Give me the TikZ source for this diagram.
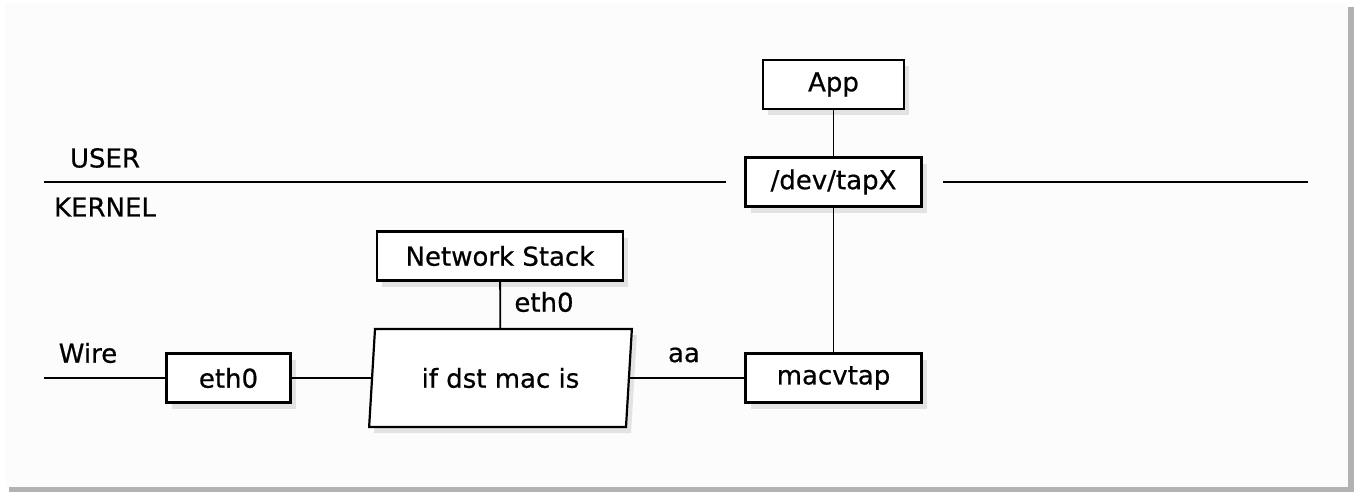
\documentclass[tikz,border=0pt]{standalone}
\usepackage{fontspec}
\setmainfont{DejaVu Sans}[BoldFont={DejaVu Sans}, BoldFeatures={FakeBold=0.6}]
\usetikzlibrary{shapes.geometric,shadows}

\begin{document}
\begin{tikzpicture}[x=0.5pt, y=-0.5pt, line width=0.9pt,
    box/.style={draw, fill=white, line width=1.1pt, minimum height=24.5pt,
      inner sep=0pt, font=\fontsize{13}{15}\selectfont\bfseries,
      drop shadow={shadow xshift=2.5pt, shadow yshift=-3pt, opacity=0.2}},
    lbl/.style={font=\fontsize{13}{15}\selectfont\bfseries, inner sep=0pt}]
    \useasboundingbox (0,0) rectangle (1354,492);
    % page frame
    \fill[white] (0,0) rectangle (1354,492);
    \fill[black!30] (9,7) rectangle (1354,492);
    \fill[black!1] (5,3) rectangle (1348,487);
    % user / kernel boundary
    \node[box, minimum width=70.5pt] (app) at (833.5,84.5) {App};
    \node[box, minimum width=88pt] (tap) at (833.5,182) {/dev/tapX};
    \coordinate (bndL) at (44,182);
    \coordinate (bndR) at (1308,182);
    \node[lbl] (user) at (105,158) {USER};
    \node[lbl] (kernel) at (105,207) {KERNEL};
    % kernel side
    \node[box, minimum width=123pt] (stack) at (500,256) {Network Stack};
    \node[box, shape=trapezium, trapezium left angle=79.6, trapezium right angle=100.4,
      trapezium stretches=true, minimum width=131.5pt, minimum height=49pt] (filter) at (500.5,378) {if dst mac is};
    \node[box, minimum width=62pt] (nic) at (228.5,378) {eth0};
    \node[box, minimum width=88pt] (mvt) at (833.5,378) {macvtap};
    \coordinate (wire) at (44,378);
    \node[lbl] (wirelbl) at (88,353) {Wire};
    \node[lbl] (ethlbl) at (544,302) {eth0};
    \node[lbl] (aalbl) at (684,355) {aa};
    % links
    \draw[shorten >=9pt] (bndL) -- (tap);
    \draw[shorten >=10pt] (bndR) -- (tap);
    \draw (app) -- (tap);
    \draw (tap) -- (mvt);
    \draw (wire) -- (nic);
    \draw (nic) -- (filter);
    \draw (filter) -- (mvt);
    \draw (stack) -- (filter);
\end{tikzpicture}
\end{document}
